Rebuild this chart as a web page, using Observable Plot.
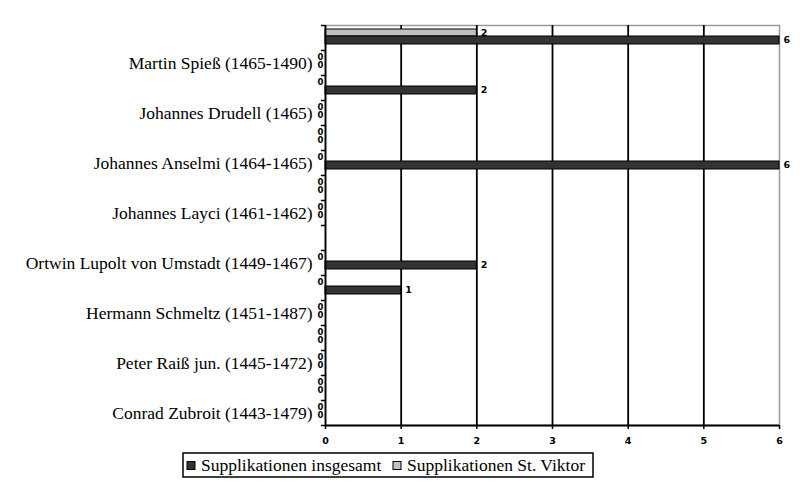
<!DOCTYPE html>
<html>
<head>
<meta charset="utf-8">
<script src="https://cdn.jsdelivr.net/npm/d3@7"></script>
<script src="https://cdn.jsdelivr.net/npm/@observablehq/plot@0.6"></script>
<style>
  body { margin: 0; background: #fff; }
  #wrap { position: relative; width: 800px; height: 503px; background: #fff; }
</style>
</head>
<body>
<div id="wrap"></div>
<script>
// ---- data (rows from top to bottom; "" = category without a printed label) ----
const persons = [
  "", "Martin Spieß (1465-1490)",
  "", "Johannes Drudell (1465)",
  "", "Johannes Anselmi (1464-1465)",
  "", "Johannes Layci (1461-1462)",
  "", "Ortwin Lupolt von Umstadt (1449-1467)",
  "", "Hermann Schmeltz (1451-1487)",
  "", "Peter Raiß jun. (1445-1472)",
  "", "Conrad Zubroit (1443-1479)"
];
const insgesamt = [6, 0, 2, 0, 0, 6, 0, 0, null, 2, 1, 0, 0, 0, 0, 0];
const stViktor  = [2, 0, 0, 0, 0, 0, 0, 0, null, 0, 0, 0, 0, 0, 0, 0];
const seriesNames = ["Supplikationen insgesamt", "Supplikationen St. Viktor"];
const seriesColors = ["#333333", "#c0c0c0"];
const xTicks = [0, 1, 2, 3, 4, 5, 6];

// ---- table built from the arrays ----
const rowIds = persons.map((_, i) => i);
const labeledRows = rowIds.filter(i => persons[i] !== "");
const rows = persons.map((p, i) => ({ i, person: p, ins: insgesamt[i], stv: stViktor[i] }));
const insRows = rows.filter(d => d.ins != null);
const stvRows = rows.filter(d => d.stv != null);
const lastRow = rowIds[rowIds.length - 1];
// rows where both series are zero: the two "0" labels sit on top of each other (one two-line label)
const bothZero = rows.filter(d => d.ins === 0 && d.stv === 0);
const stvZeroOnly = rows.filter(d => d.stv === 0 && d.ins > 0);
const insZeroOnly = rows.filter(d => d.ins === 0 && d.stv > 0);

const labelFont = "'DejaVu Sans', 'Liberation Sans', sans-serif";
const serifFont = "'Liberation Serif', 'Times New Roman', serif";
const band = 25;
const valFont = { fontFamily: labelFont, fontWeight: "bold", fontSize: 9.5 };
const zeroFont = { fontFamily: labelFont, fontWeight: "bold", fontSize: 8.5 };

const chart = Plot.plot({
  width: 800,
  height: 450,
  marginLeft: 325,
  marginRight: 21,
  marginTop: 25,
  marginBottom: 25,
  x: { domain: [0, 6], axis: null },
  y: { domain: rowIds, padding: 0, axis: null },
  style: { background: "#fff", color: "#000" },
  marks: [
    Plot.frame({ stroke: "#9a9a9a", strokeWidth: 1.5 }),
    // vertical gridlines
    Plot.ruleX(xTicks.filter(t => t > 0 && t < 6), { stroke: "#000", strokeWidth: 1.8 }),
    // bars
    Plot.barX(stvRows.filter(d => d.stv > 0), {
      x: "stv", y: "i", fill: seriesColors[1], stroke: "#000", strokeWidth: 1,
      insetTop: 4, insetBottom: 14
    }),
    Plot.barX(insRows.filter(d => d.ins > 0), {
      x: "ins", y: "i", fill: seriesColors[0], stroke: "#000", strokeWidth: 1,
      insetTop: 11, insetBottom: 6
    }),
    // axis lines
    Plot.ruleX([0], { stroke: "#000", strokeWidth: 1.8 }),
    Plot.ruleY([lastRow], { dy: band / 2, stroke: "#000", strokeWidth: 1.8 }),
    // category boundary ticks on y axis
    Plot.ruleY(rowIds, { y: d => d, x1: -0.055, x2: 0, dy: -band / 2, stroke: "#000", strokeWidth: 1.5 }),
    Plot.ruleY([lastRow], { x1: -0.055, x2: 0, dy: band / 2, stroke: "#000", strokeWidth: 1.5 }),
    Plot.axisX({ ticks: xTicks, tickSize: 4, tickPadding: 8, tickFormat: d3.format("d"), label: null,
      fontFamily: labelFont, fontWeight: "bold", fontSize: 9.5, strokeWidth: 1.5 }),
    Plot.axisY({ ticks: labeledRows, tickSize: 0, tickPadding: 13, tickFormat: i => persons[i], label: null,
      fontFamily: serifFont, fontSize: 17.5 }),
    // value labels: non-zero at bar end
    Plot.text(stvRows.filter(d => d.stv > 0), { x: "stv", y: "i", text: d => String(d.stv), dy: -5.5, dx: 4,
      textAnchor: "start", ...valFont }),
    Plot.text(insRows.filter(d => d.ins > 0), { x: "ins", y: "i", text: d => String(d.ins), dy: 2, dx: 4,
      textAnchor: "start", ...valFont }),
    // zero labels just left of the axis
    Plot.text(stvZeroOnly, { x: "stv", y: "i", text: d => String(d.stv), dy: -5.5, dx: -2,
      textAnchor: "end", ...zeroFont }),
    Plot.text(insZeroOnly, { x: "ins", y: "i", text: d => String(d.ins), dy: 2, dx: -2,
      textAnchor: "end", ...zeroFont }),
    Plot.text(bothZero, { x: "ins", y: "i", text: d => `${d.stv}\n${d.ins}`, dy: -1.75, dx: -2,
      lineHeight: 1, textAnchor: "end", ...zeroFont })
  ]
});

const wrap = document.getElementById("wrap");
wrap.appendChild(chart);

// legend below the plot svg (separate small svg)
const lg = d3.select(wrap).append("svg")
  .attr("width", 413).attr("height", 27)
  .style("position", "absolute").style("left", "182px").style("top", "452px");
lg.append("rect").attr("x", 1).attr("y", 1).attr("width", 410).attr("height", 24)
  .attr("fill", "#fff").attr("stroke", "#000").attr("stroke-width", 1.5);
const swX = [5, 211];
seriesNames.forEach((name, k) => {
  lg.append("rect").attr("x", swX[k]).attr("y", 9.5).attr("width", 8).attr("height", 8)
    .attr("fill", seriesColors[k]).attr("stroke", "#000").attr("stroke-width", 1);
  lg.append("text").attr("x", swX[k] + 14).attr("y", 18.5)
    .attr("font-family", serifFont).attr("font-size", 17.5).attr("fill", "#000")
    .text(name);
});
</script>
</body>
</html>
